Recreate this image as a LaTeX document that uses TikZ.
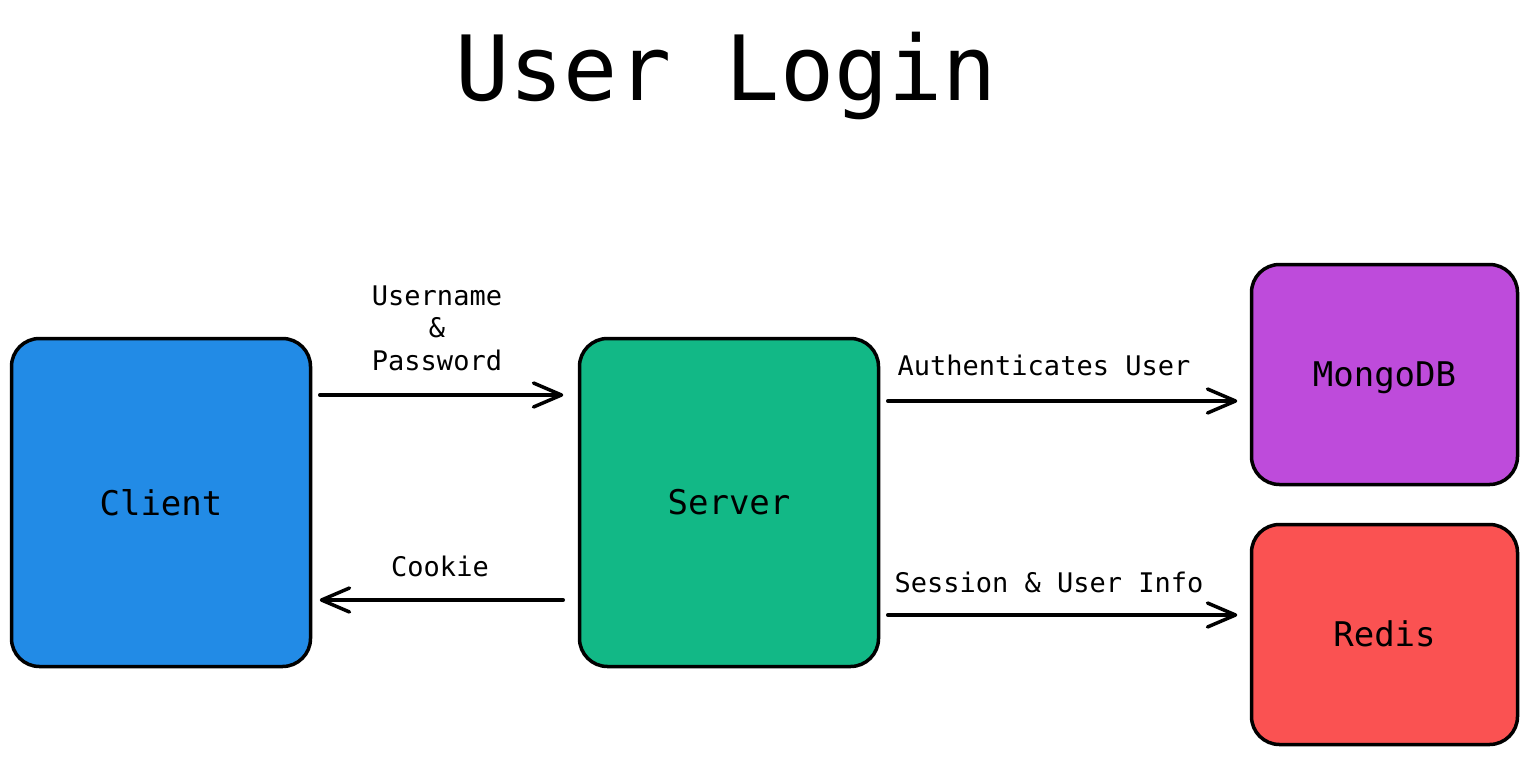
\documentclass[tikz,border=0pt]{standalone}
\usepackage{fontspec}
\setmainfont{DejaVu Sans Mono}
\usetikzlibrary{arrows.meta}
\definecolor{cblue}{HTML}{228BE6}
\definecolor{cgreen}{HTML}{12B886}
\definecolor{cpurple}{HTML}{BE4BDB}
\definecolor{cred}{HTML}{FA5252}
\tikzset{
  box/.style={draw=black, line width=3.5pt, rounded corners=28pt, inner sep=0pt,
    font=\fontsize{34}{40}\selectfont},
  arr/.style={line width=3.5pt, line cap=round,
    -{Straight Barb[length=28pt,width=24pt,line width=3.5pt,line cap=round,round]}},
  lbl/.style={font=\fontsize{27}{32.5}\selectfont, anchor=base, inner sep=0pt, align=center}
}
\begin{document}
\begin{tikzpicture}[x=1pt,y=-1pt]
\useasboundingbox (0,0) rectangle (1529,756);
\node[font=\fontsize{90}{100}\selectfont, anchor=base, inner sep=0pt] (title) at (726,100) {User Login};
\node[box, fill=cblue, minimum width=299pt, minimum height=328pt] (client) at (161,502.5) {Client};
\node[box, fill=cgreen, minimum width=299pt, minimum height=328pt] (server) at (729,502.5) {Server};
\node[box, fill=cpurple, minimum width=266pt, minimum height=220pt, text depth=0pt, text height=24pt] (mongo) at (1384.5,374.5) {MongoDB};
\node[box, fill=cred, minimum width=266pt, minimum height=220pt, text depth=0pt, text height=24pt] (redis) at (1384.5,634.5) {Redis};
\coordinate (a1) at (0,395);
\coordinate (a2) at (0,600);
\coordinate (a3) at (0,401);
\coordinate (a4) at (0,615);
\draw[arr, shorten <=7.5pt, shorten >=14.5pt] (client.east |- a1) -- (server.west |- a1);
\draw[arr, shorten <=14.5pt, shorten >=7.5pt] (server.west |- a2) -- (client.east |- a2);
\draw[arr, shorten <=7.5pt, shorten >=12.5pt] (server.east |- a3) -- (mongo.west |- a3);
\draw[arr, shorten <=7.5pt, shorten >=12.5pt] (server.east |- a4) -- (redis.west |- a4);
\node[lbl] (l1) at (437,370) {Username\\\&\\Password};
\node[lbl] (l2) at (440,576) {Cookie};
\node[lbl] (l3) at (1044,375) {Authenticates User};
\node[lbl] (l4) at (1049,592) {Session \& User Info};
\end{tikzpicture}
\end{document}
